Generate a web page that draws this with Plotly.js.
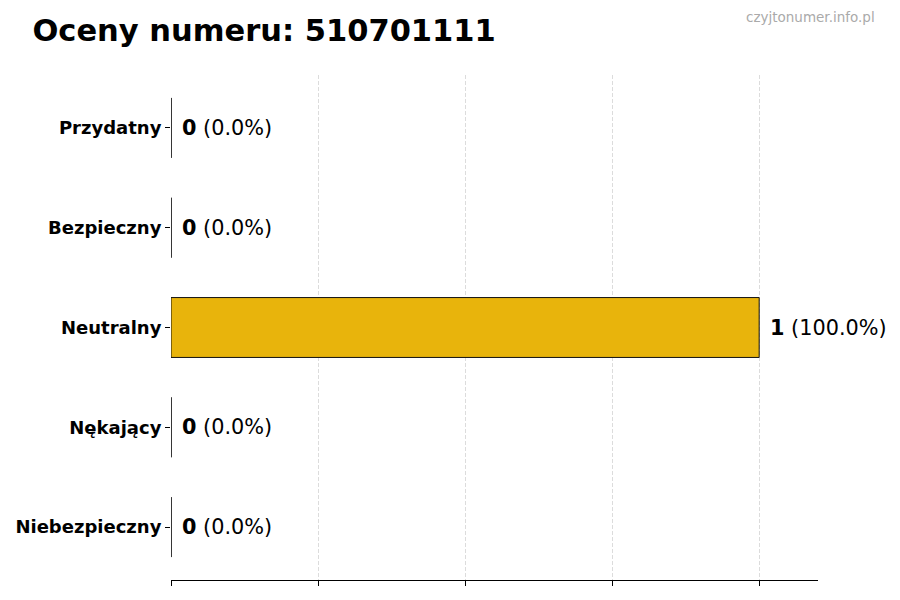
<!DOCTYPE html>
<html>
<head>
<meta charset="utf-8">
<script src="https://cdn.plot.ly/plotly-3.0.1.min.js"></script>
<style>
  body { margin: 0; background: #fff; }
  #chart { width: 900px; height: 600px; }
</style>
</head>
<body>
<div id="chart"></div>
<script>
// categories listed bottom to top, as plotted
const categories = ['Niebezpieczny', 'Nękający', 'Neutralny', 'Bezpieczny', 'Przydatny'];
const counts = [0, 0, 1, 0, 0];
const phone = '510701111';
const barColor = '#E8B40C';

const total = counts.reduce((a, b) => a + b, 0);
const positions = categories.map((_, i) => i);
const FONT = 'DejaVu Sans, sans-serif';

const bars = {
    type: 'bar',
    orientation: 'h',
    x: counts,
    y: positions,
    width: 0.6,
    marker: { color: barColor, line: { color: '#111', width: 1 } },
    hoverinfo: 'skip'
};

// value labels next to each bar
const labels = counts.map((c, i) => ({
    x: c,
    y: positions[i],
    xref: 'x',
    yref: 'y',
    text: '<b>' + c + '</b> (' + (total ? (c / total * 100) : 0).toFixed(1) + '%)',
    showarrow: false,
    xanchor: 'left',
    yanchor: 'middle',
    xshift: 9,
    font: { family: FONT, size: 20.8, color: '#000' }
}));

labels.push({
    text: 'czyjtonumer.info.pl',
    xref: 'paper', yref: 'paper',
    x: 1.091, y: 1.115,
    xanchor: 'right', yanchor: 'middle',
    showarrow: false,
    font: { family: FONT, size: 13.5, color: '#aaaaaa' }
});

// zero-length bars still show their edge line
const edges = counts.map((c, i) => c === 0 ? {
    type: 'line',
    xref: 'x', yref: 'y',
    x0: c, x1: c,
    y0: positions[i] - 0.3, y1: positions[i] + 0.3,
    line: { color: '#222', width: 1 }
} : null).filter(Boolean);

const layout = {
    width: 900,
    height: 600,
    margin: { l: 171, r: 82, t: 75, b: 20 },
    paper_bgcolor: '#fff',
    plot_bgcolor: '#fff',
    showlegend: false,
    title: {
        text: '<b>Oceny numeru: ' + phone + '</b>',
        font: { family: FONT, size: 30.5, color: '#000' },
        xref: 'container', yref: 'container',
        x: 0.036, xanchor: 'left',
        y: 0.95, yanchor: 'middle'
    },
    xaxis: {
        range: [0, 1.1],
        tickvals: [0, 0.25, 0.5, 0.75, 1],
        showticklabels: false,
        ticks: 'outside',
        ticklen: 5,
        tickcolor: '#000',
        showline: true,
        linecolor: '#000',
        linewidth: 1,
        showgrid: true,
        gridcolor: '#dcdcdc',
        griddash: '4px,2px',
        gridwidth: 1,
        zeroline: false,
        fixedrange: true
    },
    yaxis: {
        range: [-0.53, 4.53],
        tickvals: positions,
        ticktext: categories.map(c => '<b>' + c + '</b>'),
        ticks: 'outside',
        ticklen: 5,
        tickcolor: '#000',
        tickfont: { family: FONT, size: 18, color: '#000' },
        showline: false,
        showgrid: false,
        zeroline: false,
        fixedrange: true
    },
    annotations: labels,
    shapes: edges
};

Plotly.newPlot('chart', [bars], layout, { displayModeBar: false, staticPlot: true });
</script>
</body>
</html>
